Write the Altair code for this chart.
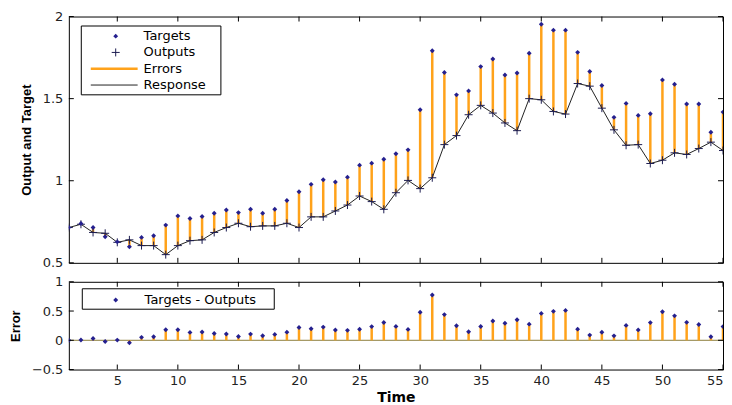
import altair as alt
import pandas as pd

# ---------------- data ----------------
time = list(range(1, 56))
targets = [0.715, 0.74, 0.715, 0.659, 0.628, 0.598, 0.655, 0.665, 0.73, 0.786,
           0.77, 0.782, 0.802, 0.822, 0.806, 0.826, 0.802, 0.826, 0.88, 0.933,
           0.978, 1.006, 0.992, 1.022, 1.095, 1.107, 1.131, 1.164, 1.188, 1.432,
           1.792, 1.659, 1.523, 1.547, 1.695, 1.741, 1.644, 1.656, 1.776, 1.953,
           1.917, 1.917, 1.782, 1.665, 1.58, 1.386, 1.471, 1.398, 1.408, 1.614,
           1.588, 1.467, 1.467, 1.295, 1.418]
outputs = [0.715, 0.735, 0.685, 0.68, 0.625, 0.64, 0.605, 0.605, 0.55, 0.605,
           0.635, 0.64, 0.685, 0.715, 0.741, 0.72, 0.725, 0.725, 0.741, 0.715,
           0.78, 0.78, 0.816, 0.852, 0.907, 0.873, 0.826, 0.927, 1.002, 0.952,
           1.018, 1.22, 1.275, 1.402, 1.459, 1.412, 1.352, 1.305, 1.5, 1.493,
           1.422, 1.406, 1.592, 1.576, 1.442, 1.31, 1.216, 1.22, 1.105, 1.125,
           1.17, 1.16, 1.196, 1.235, 1.184]
x_ticks = [5, 10, 15, 20, 25, 30, 35, 40, 45, 50, 55]
top_y_ticks = [0.5, 1, 1.5, 2]
bot_y_ticks = [-0.5, 0, 0.5, 1]
legend_top = ["Targets", "Outputs", "Errors", "Response"]
legend_bot = ["Targets - Outputs"]

df = pd.DataFrame({"t": time, "target": targets, "output": outputs})

# ---------------- style ----------------
W, H1, H2 = 656, 247, 88
TARGET_C = "#25208f"
OUTPUT_C = "#1c1c50"
ERR_C = "#ffa21a"
LINE_C = "#222222"
PLUS = "M-1,0L1,0M0,-1L0,1"
LBL_FONT = "DejaVu Sans"
TTL_FONT = "Liberation Sans"

xs = alt.Scale(domain=[1, 55], nice=False, zero=False)
ys1 = alt.Scale(domain=[0.5, 2], nice=False, zero=False)
ys2 = alt.Scale(domain=[-0.5, 1], nice=False, zero=False)

one = pd.DataFrame({"a": [0]})

top_y_axis = alt.Axis(values=top_y_ticks, format="~g", title="Output and Target",
                      tickSize=0, domain=False, grid=False, labelPadding=6, titlePadding=9)
bot_y_axis = alt.Axis(values=bot_y_ticks, format="~g", title="Error", tickSize=0,
                      domain=False, grid=False, labelPadding=6, titlePadding=9)
bot_x_axis = alt.Axis(values=x_ticks, format="~g", title="Time", tickSize=0, domain=False,
                      grid=False, labelPadding=5, titlePadding=3, labelFlush=True,
                      titleFont="DejaVu Sans", titleFontSize=14, titleFontWeight="bold")


def ticks(yscale, yvals, H, xaxis, yaxis):
    xt = pd.DataFrame({"v": x_ticks})
    yt = pd.DataFrame({"v": yvals})
    xk = alt.X("v:Q", scale=xs, axis=xaxis) if xaxis is not None else alt.X("v:Q", scale=xs, axis=None)
    yk = alt.Y("v:Q", scale=yscale, axis=yaxis)
    return [
        alt.Chart(xt).mark_rule(color="black").encode(x=xk, y=alt.value(H), y2=alt.value(H - 5)),
        alt.Chart(xt).mark_rule(color="black").encode(x=xk, y=alt.value(0), y2=alt.value(5)),
        alt.Chart(yt).mark_rule(color="black").encode(y=yk, x=alt.value(0), x2=alt.value(5)),
        alt.Chart(yt).mark_rule(color="black").encode(y=yk, x=alt.value(W), x2=alt.value(W - 5)),
    ]


# ---------------- top panel ----------------
xq = alt.X("t:Q", scale=xs, axis=None)
ytop = alt.Y("target:Q", scale=ys1, axis=top_y_axis)
yout = alt.Y("output:Q", scale=ys1, axis=top_y_axis)

errs = alt.Chart(df).mark_rule(color=ERR_C, strokeWidth=2.5, clip=True).encode(
    x=xq, y=ytop, y2="output:Q")
resp = alt.Chart(df).mark_line(color=LINE_C, strokeWidth=1, clip=True).encode(x=xq, y=yout)
outs = alt.Chart(df).mark_point(shape=PLUS, size=64, filled=False, color=OUTPUT_C,
                                strokeWidth=1, opacity=1, clip=True).encode(x=xq, y=yout)
tgts = alt.Chart(df).mark_point(shape="diamond", size=24, filled=True, color=TARGET_C,
                                opacity=1, clip=True).encode(x=xq, y=ytop)

# legend (top)
lg = []
lg.append(alt.Chart(one).mark_rect(fill="white", stroke="black", strokeWidth=1).encode(
    x=alt.value(12.5), x2=alt.value(152.5), y=alt.value(9.5), y2=alt.value(78.5)))
rows = [19.7, 36, 52.3, 68.7]
lg.append(alt.Chart(one).mark_point(shape="diamond", size=24, filled=True, color=TARGET_C,
                                    opacity=1).encode(x=alt.value(47), y=alt.value(rows[0])))
lg.append(alt.Chart(one).mark_point(shape=PLUS, size=64, filled=False, color=OUTPUT_C,
                                    strokeWidth=1, opacity=1).encode(x=alt.value(47), y=alt.value(rows[1])))
lg.append(alt.Chart(one).mark_rule(color=ERR_C, strokeWidth=2.5).encode(
    x=alt.value(22), x2=alt.value(69), y=alt.value(rows[2])))
lg.append(alt.Chart(one).mark_rule(color=LINE_C, strokeWidth=1).encode(
    x=alt.value(22), x2=alt.value(69), y=alt.value(rows[3])))
for lab, ry in zip(legend_top, rows):
    lg.append(alt.Chart(one).mark_text(align="left", baseline="middle", font=LBL_FONT,
                                       fontSize=13, color="black", text=lab).encode(
        x=alt.value(75), y=alt.value(ry)))

top = alt.layer(errs, resp, outs, tgts, *ticks(ys1, top_y_ticks, H1, None, top_y_axis),
                *lg).properties(width=W, height=H1)

# ---------------- bottom panel ----------------
xb = alt.X("t:Q", scale=xs, axis=bot_x_axis)
ybot = alt.Y("err:Q", scale=ys2, axis=bot_y_axis)

base_b = alt.Chart(df).transform_calculate(err="datum.target - datum.output")
zero_line = alt.Chart(one).mark_rule(color="#8c7e3c", strokeWidth=1).encode(
    y=alt.datum(0, scale=ys2, axis=bot_y_axis), x=alt.value(0), x2=alt.value(W))
stems = base_b.mark_rule(color=ERR_C, strokeWidth=2.5, clip=True).encode(
    x=xb, y=ybot, y2=alt.datum(0))
dots = base_b.mark_point(shape="diamond", size=24, filled=True, color=TARGET_C,
                         opacity=1, clip=True).encode(x=xb, y=ybot)

lgb = [
    alt.Chart(one).mark_rect(fill="white", stroke="black", strokeWidth=1).encode(
        x=alt.value(13.5), x2=alt.value(206), y=alt.value(7), y2=alt.value(27.5)),
    alt.Chart(one).mark_point(shape="diamond", size=24, filled=True, color=TARGET_C,
                              opacity=1).encode(x=alt.value(47), y=alt.value(18.3)),
    alt.Chart(one).mark_text(align="left", baseline="middle", font=LBL_FONT, fontSize=13,
                             color="black", text=legend_bot[0]).encode(
        x=alt.value(76), y=alt.value(18.3)),
]

bottom = alt.layer(zero_line, stems, dots, *ticks(ys2, bot_y_ticks, H2, bot_x_axis, bot_y_axis),
                   *lgb).properties(width=W, height=H2)

chart = alt.vconcat(top, bottom, spacing=19, bounds="flush").properties(
    padding={"left": 0, "top": 1, "right": 0, "bottom": 0}, background="white"
).configure_view(stroke="black", strokeWidth=1).configure_axis(
    labelFont=LBL_FONT, labelFontSize=13, labelColor="#222222",
    titleFont=TTL_FONT, titleFontSize=13, titleFontWeight="bold", titleColor="black"
)

chart.save("out.html", embed_options={"renderer": "svg", "actions": False})
